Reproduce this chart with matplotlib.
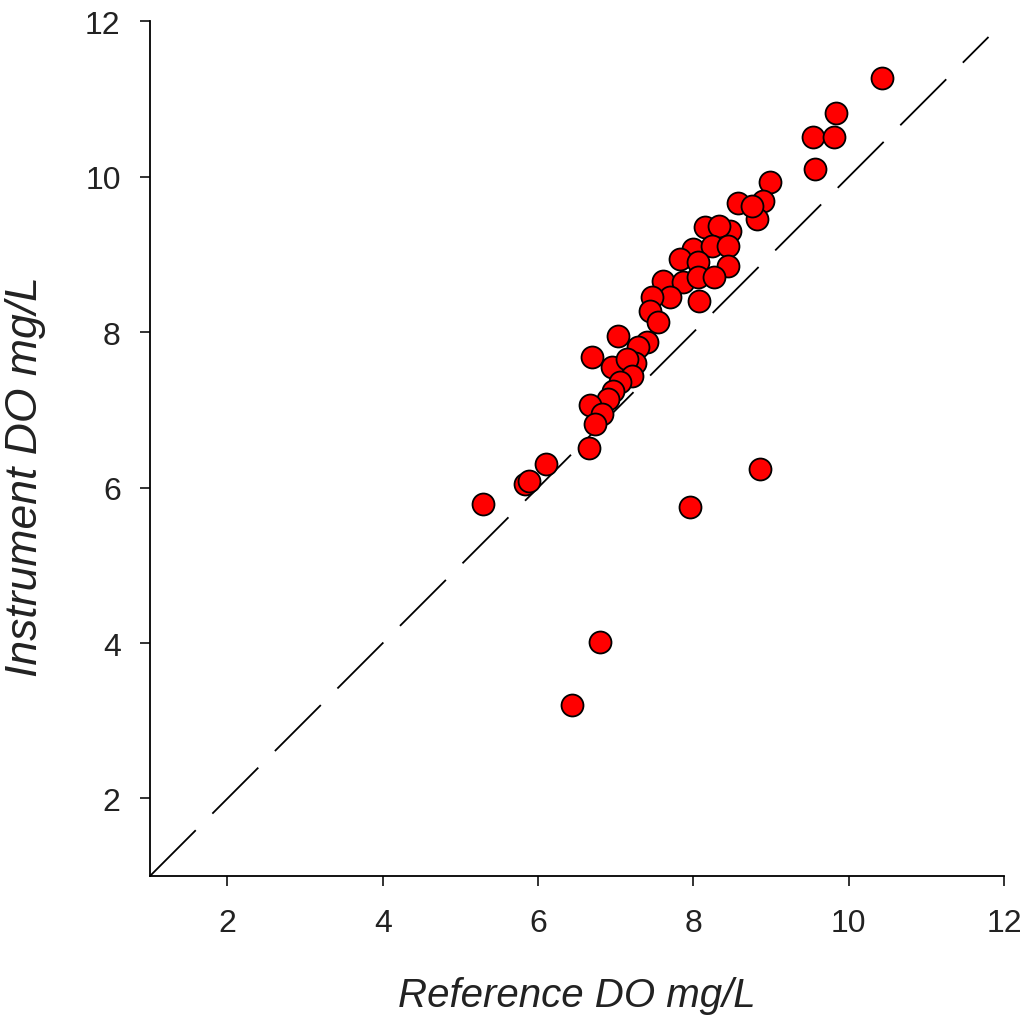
import matplotlib.pyplot as plt

# Reference vs instrument dissolved oxygen readings (mg/L)
ref_do = [5.29, 5.83, 5.88, 6.10, 6.66, 7.95, 8.86, 6.80, 6.44,
          10.43, 9.84, 9.54, 9.81, 9.57, 8.99, 8.90, 8.82,
          8.58, 8.76, 8.15, 8.47, 8.33, 8.00, 8.24, 8.44,
          7.83, 8.06, 8.45, 7.61, 7.86, 8.06, 8.26, 7.70,
          8.07, 7.47, 7.44, 7.55, 7.03, 7.40, 7.29, 6.70,
          6.95, 7.25, 7.15, 7.21, 7.06, 6.97, 6.90, 6.67,
          6.82, 6.73]
inst_do = [5.79, 6.05, 6.08, 6.30, 6.51, 5.75, 6.24, 4.02, 3.20,
           11.27, 10.82, 10.51, 10.51, 10.10, 9.94, 9.69, 9.46,
           9.66, 9.62, 9.35, 9.30, 9.37, 9.07, 9.11, 9.11,
           8.94, 8.91, 8.85, 8.66, 8.65, 8.71, 8.71, 8.46,
           8.40, 8.45, 8.27, 8.13, 7.95, 7.87, 7.81, 7.68,
           7.55, 7.60, 7.65, 7.44, 7.36, 7.24, 7.14, 7.07,
           6.95, 6.82]
ticks = [2, 4, 6, 8, 10, 12]
line_end = [1, 11.8]  # 1:1 line extent

plt.rcParams['font.family'] = ['Liberation Sans', 'DejaVu Sans']

fig = plt.figure(figsize=(10.26, 10.2), dpi=100)
ax = fig.add_axes([0.146, 0.140, 0.8326, 0.838])

# 1:1 line
ax.plot(line_end, line_end, color='black', lw=1.3, linestyle=(0, (36, 13)), zorder=1)

ax.scatter(ref_do, inst_do, s=250, c='#ff0000', edgecolors='black',
           linewidths=1.3, zorder=3)

ax.set_xlim(1, 12)
ax.set_ylim(1, 12)
ax.set_xticks(ticks)
ax.set_yticks(ticks)

ax.spines['top'].set_visible(False)
ax.spines['right'].set_visible(False)
ax.spines['left'].set_linewidth(1.3)
ax.spines['bottom'].set_linewidth(1.3)
ax.tick_params(direction='out', length=7, width=1.3, labelsize=23, colors='#222222')
ax.tick_params(axis='x', pad=16)
ax.tick_params(axis='y', pad=14)

ax.set_xlabel('Reference DO mg/L', fontsize=29, style='italic', color='#222222')
ax.set_ylabel('Instrument DO mg/L', fontsize=32, style='italic', color='#222222')
ax.xaxis.set_label_coords(0.5, -0.117)
ax.yaxis.set_label_coords(-0.122, 0.469)

fig.savefig('out.png', dpi=100)
